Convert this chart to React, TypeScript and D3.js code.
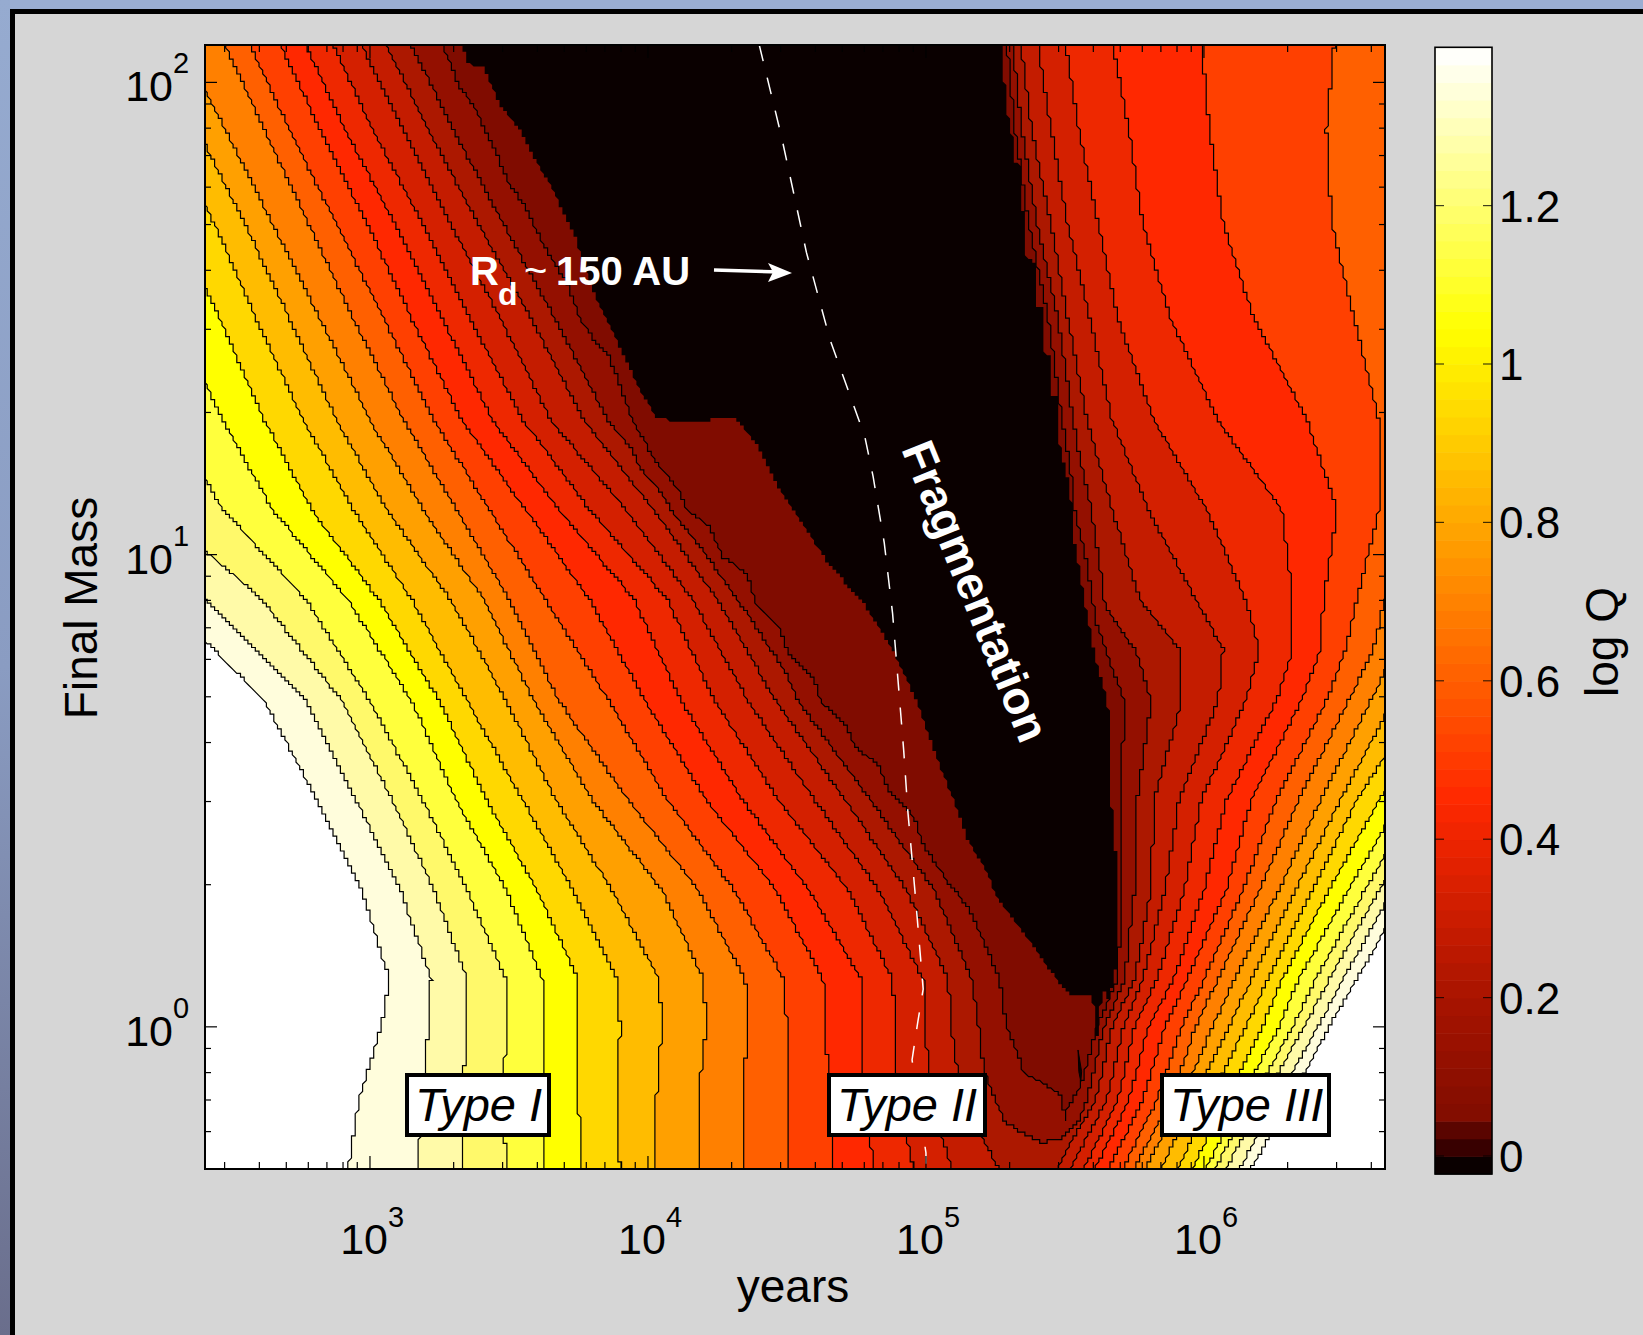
import React from 'react'
import * as d3 from 'd3'

// every contour: log10(years) at fixed log10(mass) rows
const leftRows = [2.09, 1.9, 1.7, 1.5, 1.285, 1.095, 0.905, 0.69, 0.48, 0.29, 0.1, 0, -0.155, -0.31]
const rightRows = [2.09, 1.9, 1.7, 1.5, 1.285, 1.095, 0.905, 0.8, 0.69, 0.48, 0.29, 0.1, 0, -0.155, -0.31]
const OFF = 7.2 // contour has left the plot on the right

// index 0 is the contour between band 3 and band 4, the last one borders white
const leftContours = [
  [3.05, 3.21, 3.39, 3.58, 3.77, 4.02, 4.25, 4.46, 4.71, 4.93, 5.08, 5.09, 5.13, 5.27],
  [2.96, 3.12, 3.29, 3.47, 3.65, 3.92, 4.16, 4.36, 4.6, 4.83, 4.99, 5.0, 5.01, 5.1],
  [2.86, 3.01, 3.19, 3.36, 3.55, 3.79, 4.07, 4.24, 4.47, 4.72, 4.88, 4.89, 4.9, 4.96],
  [2.76, 2.91, 3.09, 3.26, 3.44, 3.68, 3.95, 4.12, 4.34, 4.58, 4.77, 4.77, 4.77, 4.82],
  [2.67, 2.82, 2.99, 3.15, 3.33, 3.56, 3.79, 3.99, 4.21, 4.46, 4.63, 4.64, 4.65, 4.67],
  [2.56, 2.71, 2.88, 3.05, 3.23, 3.43, 3.63, 3.86, 4.07, 4.31, 4.49, 4.5, 4.5, 4.5],
  [2.47, 2.62, 2.78, 2.94, 3.12, 3.31, 3.5, 3.68, 3.93, 4.18, 4.35, 4.36, 4.34, 4.34],
  [2.31, 2.48, 2.65, 2.82, 3.0, 3.19, 3.41, 3.59, 3.8, 4.05, 4.2, 4.21, 4.18, 4.18],
  [2.24, 2.38, 2.55, 2.71, 2.88, 3.06, 3.29, 3.49, 3.67, 3.87, 4.04, 4.05, 4.03, 4.03],
  [2.14, 2.28, 2.44, 2.59, 2.76, 2.94, 3.15, 3.35, 3.55, 3.73, 3.89, 3.9, 3.89, 3.9],
  [2.03, 2.15, 2.3, 2.46, 2.62, 2.79, 3.03, 3.25, 3.42, 3.6, 3.75, 3.75, 3.75, 3.76],
  [1.83, 1.97, 2.14, 2.3, 2.47, 2.65, 2.92, 3.15, 3.31, 3.49, 3.62, 3.62, 3.62, 3.63],
  [1.63, 1.78, 1.94, 2.11, 2.29, 2.47, 2.77, 3.0, 3.19, 3.35, 3.49, 3.49, 3.48, 3.49],
  [1.53, 1.67, 1.82, 1.99, 2.17, 2.24, 2.61, 2.9, 3.08, 3.23, 3.35, 3.35, 3.33, 3.34],
  [1.42, 1.56, 1.73, 1.9, 2.08, 2.17, 2.41, 2.77, 2.95, 3.11, 3.22, 3.21, 3.19, 3.17],
  [1.35, 1.49, 1.65, 1.82, 2.0, 2.06, 2.26, 2.62, 2.81, 2.97, 3.07, 3.04, 2.96, 2.92],
]

const rightContours = [
  [5.34, 5.38, 5.45, 5.51, 5.58, 5.67, 5.77, 5.91, 5.92, 5.82, 5.81, 5.75, 5.67, 5.61, 5.46],
  [5.4, 5.45, 5.51, 5.59, 5.67, 5.8, 5.97, 6.07, 6.05, 5.91, 5.86, 5.78, 5.71, 5.65, 5.51],
  [5.5, 5.55, 5.62, 5.69, 5.82, 6.01, 6.15, 6.2, 6.15, 5.99, 5.93, 5.83, 5.75, 5.69, 5.56],
  [5.67, 5.73, 5.78, 5.88, 6.05, 6.28, 6.32, 6.32, 6.26, 6.08, 6.0, 5.89, 5.8, 5.73, 5.6],
  [5.99, 6.02, 6.07, 6.18, 6.37, 6.48, 6.43, 6.42, 6.35, 6.17, 6.08, 5.94, 5.86, 5.78, 5.65],
  [6.47, 6.44, 6.46, 6.54, 6.63, 6.63, 6.55, 6.51, 6.44, 6.26, 6.14, 6.0, 5.92, 5.83, 5.7],
  [OFF, OFF, OFF, OFF, 7.0, 6.81, 6.65, 6.61, 6.52, 6.34, 6.2, 6.05, 5.97, 5.88, 5.74],
  [OFF, OFF, OFF, OFF, OFF, 7.0, 6.81, 6.69, 6.6, 6.42, 6.27, 6.11, 6.03, 5.92, 5.78],
  [OFF, OFF, OFF, OFF, OFF, OFF, 7.0, 6.8, 6.68, 6.49, 6.33, 6.17, 6.09, 5.96, 5.84],
  [OFF, OFF, OFF, OFF, OFF, OFF, OFF, 6.95, 6.78, 6.55, 6.39, 6.23, 6.15, 6.02, 5.9],
  [OFF, OFF, OFF, OFF, OFF, OFF, OFF, 7.05, 6.85, 6.63, 6.45, 6.28, 6.21, 6.08, 5.95],
  [OFF, OFF, OFF, OFF, OFF, OFF, OFF, OFF, 6.95, 6.71, 6.52, 6.34, 6.27, 6.13, 6.0],
  [OFF, OFF, OFF, OFF, OFF, OFF, OFF, OFF, 7.05, 6.77, 6.58, 6.4, 6.32, 6.17, 6.03],
  [OFF, OFF, OFF, OFF, OFF, OFF, OFF, OFF, 7.1, 6.83, 6.63, 6.45, 6.36, 6.21, 6.07],
  [OFF, OFF, OFF, OFF, OFF, OFF, OFF, OFF, OFF, 6.88, 6.68, 6.5, 6.41, 6.26, 6.12],
  [OFF, OFF, OFF, OFF, OFF, OFF, OFF, OFF, OFF, 6.94, 6.73, 6.55, 6.45, 6.31, 6.16],
]

// the three lowest contours close on themselves: [log10 years, log10 mass]
const outlineBand2 = [
  [3.14, 2.09], [3.3, 1.9], [3.48, 1.7], [3.665, 1.5], [3.855, 1.285], [3.945, 1.22], [3.97, 1.185], [4.05, 1.13],
  [4.1, 1.08], [4.19, 1.015], [4.25, 0.965], [4.305, 0.92], [4.39, 0.845], [4.49, 0.755], [4.54, 0.69], [4.59, 0.65],
  [4.8, 0.48], [5.03, 0.29], [5.165, 0.1], [5.19, 0], [5.205, -0.076], [5.22, -0.112], [5.28, -0.197], [5.34, -0.224],
  [5.42, -0.245], [5.49, -0.235], [5.55, -0.197], [5.58, -0.155], [5.64, 0], [5.715, 0.1], [5.75, 0.29], [5.76, 0.48],
  [5.81, 0.69], [5.76, 0.79], [5.645, 0.89], [5.625, 0.98], [5.59, 1.11], [5.55, 1.215], [5.53, 1.285], [5.475, 1.5],
  [5.4, 1.7], [5.345, 1.9], [5.31, 2.09],
]
const outlineBand1 = [
  [3.25, 2.09], [3.29, 2.04], [3.32, 1.99], [3.37, 1.955], [3.41, 1.905], [3.44, 1.87], [3.5, 1.785], [3.55, 1.745],
  [3.6, 1.685], [3.65, 1.63], [3.71, 1.575], [3.755, 1.5], [3.8, 1.46], [3.86, 1.42], [3.945, 1.285], [4.03, 1.195],
  [4.115, 1.135], [4.14, 1.095], [4.22, 1.06], [4.27, 0.995], [4.355, 0.96], [4.39, 0.895], [4.475, 0.845], [4.505, 0.79],
  [4.595, 0.74], [4.625, 0.685], [4.715, 0.635], [4.745, 0.59], [4.825, 0.56], [4.865, 0.5], [4.935, 0.46], [4.97, 0.43],
  [4.98, 0.395], [5.075, 0.31], [5.15, 0.255], [5.205, 0.185], [5.265, 0.1], [5.29, 0], [5.33, -0.055], [5.35, -0.097],
  [5.445, -0.127], [5.49, -0.148], [5.5, -0.2], [5.51, -0.17], [5.555, -0.127], [5.57, -0.1], [5.615, 0], [5.69, 0.1],
  [5.705, 0.29], [5.7, 0.48], [5.715, 0.69], [5.67, 0.76], [5.61, 0.86], [5.58, 0.98], [5.535, 1.095], [5.52, 1.18],
  [5.49, 1.285], [5.44, 1.5], [5.37, 1.7], [5.32, 1.9], [5.29, 2.09],
]
const outlineBand0 = [
  [3.33, 2.09], [3.35, 2.04], [3.41, 2.03], [3.44, 1.99], [3.47, 1.95], [3.54, 1.9], [3.6, 1.83], [3.66, 1.77],
  [3.74, 1.67], [3.76, 1.63], [3.81, 1.545], [3.85, 1.5], [3.97, 1.35], [4.03, 1.29], [4.12, 1.28], [4.31, 1.29],
  [4.39, 1.235], [4.47, 1.14], [4.55, 1.07], [4.65, 0.98], [4.77, 0.9], [4.88, 0.8], [4.97, 0.685], [5.05, 0.55],
  [5.1, 0.48], [5.15, 0.395], [5.22, 0.325], [5.255, 0.275], [5.35, 0.2], [5.445, 0.12], [5.52, 0.065], [5.6, 0.07],
  [5.61, -0.03], [5.62, -0.013], [5.63, 0.057], [5.65, 0.085], [5.655, 0.057], [5.67, 0.085], [5.69, 0.14], [5.69, 0.32],
  [5.67, 0.445], [5.66, 0.58], [5.655, 0.685], [5.615, 0.77], [5.58, 0.87], [5.53, 1.045], [5.52, 1.135], [5.475, 1.25],
  [5.47, 1.335], [5.445, 1.34], [5.445, 1.42], [5.42, 1.43], [5.42, 1.525], [5.39, 1.53], [5.39, 1.62], [5.36, 1.63],
  [5.36, 1.72], [5.34, 1.735], [5.34, 1.825], [5.31, 1.83], [5.31, 1.885], [5.29, 1.945], [5.29, 1.98], [5.27, 2.03],
  [5.27, 2.09],
]
const sliverBand0 = [[5.547, -0.049], [5.56, -0.095], [5.557, -0.116], [5.55, -0.095]]

const discRadius = [
  [4.4, 2.08], [4.48, 1.886], [4.57, 1.64], [4.655, 1.455], [4.78, 1.25], [4.81, 1.165], [4.85, 1.025], [4.88, 0.875],
  [4.9, 0.73], [4.92, 0.585], [4.935, 0.455], [4.96, 0.29], [4.99, 0.08], [4.97, 0.008], [4.95, -0.07], [5.0, -0.267],
  [5.0, -0.3],
]

const bandColors = [
  '#0a0000', '#800c00', '#941000', '#ac1800', '#c41c00', '#d42000', '#ee2800', '#ff2800', '#ff4000', '#ff6000',
  '#ff8000', '#ffa000', '#ffbc00', '#ffd800', '#ffff00', '#ffff3c', '#fff96a', '#fffaa8', '#fffddc', '#ffffff',
]

const cbarStops = [0.045, 0.2, 0.45, 1.044, 1.395]
const cbarStopColors = ['#800c00', '#a81400', '#ff2800', '#ffff00', '#ffffff']
const cbarBottomColors = ['#0a0000', '#380000', '#5a0500']
const cbarTicks = [0, 0.2, 0.4, 0.6, 0.8, 1, 1.2]
const cbarTickLabels = ['0', '0.2', '0.4', '0.6', '0.8', '1', '1.2']

const xDecades = [3, 4, 5, 6]
const yDecades = [0, 1, 2]
const typeBoxes = [
  { label: 'Type I', x: 405, w: 146 },
  { label: 'Type II', x: 827, w: 160 },
  { label: 'Type III', x: 1160, w: 171 },
]

const FONT = '"Liberation Sans", Arial, sans-serif'
const CELL = 3.7 // the original was contoured on a grid, so its lines jog a little

export default function App() {
  const left = 205
  const right = 1385
  const top = 45
  const bottom = 1169

  const x = d3.scaleLog().domain([255, 4.48e6]).range([left, right])
  const y = d3.scaleLog().domain([0.5, 120]).range([bottom, top])
  const cb = d3.scaleLinear().domain([0, 1]).range([1156, 364])
  const cbColor = d3.scaleLinear<string>().domain(cbarStops).range(cbarStopColors).clamp(true)

  const px = (p: number[]) => x(Math.pow(10, p[0]))
  const py = (p: number[]) => y(Math.pow(10, p[1]))
  const straight = d3.line<number[]>().x(px).y(py)
  const gridLine = d3.line<number[]>()

  // walk a polyline and snap it to the contour grid
  const stairs = (pts: number[][]) => {
    const out: number[][] = []
    for (let i = 0; i < pts.length - 1; i++) {
      const [x0, y0] = [px(pts[i]), py(pts[i])]
      const [x1, y1] = [px(pts[i + 1]), py(pts[i + 1])]
      const n = Math.max(1, Math.ceil(Math.hypot(x1 - x0, y1 - y0) / (CELL / 2)))
      for (let k = 0; k <= n; k++) {
        const sx = Math.round((x0 + ((x1 - x0) * k) / n) / CELL) * CELL
        const sy = Math.round((y0 + ((y1 - y0) * k) / n) / CELL) * CELL
        const last = out[out.length - 1]
        if (!last || last[0] !== sx || last[1] !== sy) out.push([sx, sy])
      }
    }
    return out
  }

  const bands = leftContours
    .map((lc, i) => {
      const lp = lc.map((v, r) => [v, leftRows[r]])
      const rp = rightContours[i].map((v, r) => [v, rightRows[r]]).reverse()
      return { d: gridLine(stairs(lp).concat(stairs(rp))) + 'Z', fill: bandColors[i + 3] }
    })
    .reverse()

  const cbarBands = d3.range(64).map((i) => {
    const h = (1174 - 47.3) / 64
    const yb = 1174 - i * h
    const v = cb.invert(yb - h / 2)
    return { y: yb - h, h, fill: i < 3 ? cbarBottomColors[i] : cbColor(v) }
  })

  const xTicks = x.ticks()
  const yTicks = y.ticks()
  const isMajor = (t: number) => Math.abs(Math.log10(t) - Math.round(Math.log10(t))) < 1e-6

  return (
    <svg
      width={1643}
      height={1335}
      style={{ position: 'absolute', left: 0, top: 0, display: 'block' }}
      fontFamily={FONT}
    >
      <defs>
        <linearGradient id="edge" x1="0" y1="0" x2="0" y2="1">
          <stop offset="0" stopColor="#96abd0" />
          <stop offset="0.5" stopColor="#8a9cc2" />
          <stop offset="1" stopColor="#6a6e8c" />
        </linearGradient>
        <clipPath id="plot">
          <rect x={left} y={top} width={right - left} height={bottom - top} />
        </clipPath>
      </defs>

      <rect width={1643} height={1335} fill="#d6d6d6" />
      <rect width={1643} height={9} fill="#9aaed2" />
      <rect width={10} height={1335} fill="url(#edge)" />
      <rect x={10} y={9} width={1633} height={5} fill="#000" />
      <rect x={10} y={9} width={5} height={1326} fill="#000" />

      <g clipPath="url(#plot)">
        <rect x={left} y={top} width={right - left} height={bottom - top} fill="#fff" />
        {bands.map((b, i) => (
          <path key={i} d={b.d} fill={b.fill} stroke="#000" strokeWidth={1.2} />
        ))}
        <path d={gridLine(stairs(outlineBand2)) + 'Z'} fill={bandColors[2]} stroke="#000" strokeWidth={1.2} />
        <path d={gridLine(stairs(outlineBand1)) + 'Z'} fill={bandColors[1]} stroke="#000" strokeWidth={1.2} />
        <path d={gridLine(stairs(outlineBand0)) + 'Z'} fill={bandColors[0]} />
        <path d={straight(sliverBand0) + 'Z'} fill={bandColors[0]} stroke="#000" strokeWidth={1} />
        <path
          d={straight(discRadius) as string}
          fill="none"
          stroke="#fff"
          strokeWidth={1.5}
          strokeDasharray="17 17"
        />
      </g>

      {/* ticks on all four sides */}
      {xTicks.map((t, i) => {
        const len = isMajor(t) ? 13 : 7
        return (
          <g key={i} stroke="#000" strokeWidth={1.2}>
            <line x1={x(t)} x2={x(t)} y1={bottom} y2={bottom - len} />
            <line x1={x(t)} x2={x(t)} y1={top} y2={top + len} />
          </g>
        )
      })}
      {yTicks.map((t, i) => {
        const len = isMajor(t) ? 12 : 6
        return (
          <g key={i} stroke="#000" strokeWidth={1.2}>
            <line x1={left} x2={left + len} y1={y(t)} y2={y(t)} />
            <line x1={right} x2={right - len} y1={y(t)} y2={y(t)} />
          </g>
        )
      })}
      <rect x={left} y={top} width={right - left} height={bottom - top} fill="none" stroke="#000" strokeWidth={2} />

      {/* decade labels */}
      {xDecades.map((d) => (
        <g key={d} fill="#000">
          <text x={x(Math.pow(10, d)) + 18} y={1254} fontSize={43} textAnchor="end">10</text>
          <text x={x(Math.pow(10, d)) + 18} y={1227} fontSize={29}>{d}</text>
        </g>
      ))}
      {yDecades.map((d) => (
        <g key={d} fill="#000">
          <text x={173} y={y(Math.pow(10, d)) + 19} fontSize={43} textAnchor="end">10</text>
          <text x={173} y={y(Math.pow(10, d)) - 9} fontSize={29}>{d}</text>
        </g>
      ))}
      <text x={793} y={1302} fontSize={46} textAnchor="middle" fill="#000">years</text>
      <text transform="translate(97,608) rotate(-90)" fontSize={46} textAnchor="middle" fill="#000">Final Mass</text>

      {/* annotations */}
      <g fill="#fff" fontWeight="bold">
        <text x={470} y={285} fontSize={40}>R</text>
        <text x={498} y={305} fontSize={32}>d</text>
        <text x={524} y={284} fontSize={40} fontWeight="normal">~</text>
        <text x={556} y={285} fontSize={40}>150 AU</text>
        <text transform="translate(901,449) rotate(68)" fontSize={46}>Fragmentation</text>
      </g>
      <line x1={714} y1={270} x2={780} y2={272} stroke="#fff" strokeWidth={3.5} />
      <path d="M792,273 L768,263 L773,272 L768,282 Z" fill="#fff" />

      {typeBoxes.map((b) => (
        <g key={b.label}>
          <rect x={b.x + 2} y={1075} width={b.w - 4} height={60} fill="#fff" stroke="#000" strokeWidth={4} />
          <text x={b.x + 10} y={1121} fontSize={47} fontStyle="italic" fill="#000">{b.label}</text>
        </g>
      ))}

      {/* colour bar */}
      {cbarBands.map((b, i) => (
        <rect key={i} x={1435} y={b.y} width={57} height={b.h + 0.5} fill={b.fill} />
      ))}
      {cbarTicks.map((t) => (
        <g key={t} stroke="#000" strokeOpacity={0.75} strokeWidth={1.2}>
          <line x1={1435} x2={1444} y1={cb(t)} y2={cb(t)} />
          <line x1={1483} x2={1492} y1={cb(t)} y2={cb(t)} />
        </g>
      ))}
      <rect x={1435} y={47.3} width={57} height={1126.7} fill="none" stroke="#000" strokeWidth={1.6} />
      {cbarTicks.map((t, i) => (
        <text key={t} x={1499} y={cb(t) + 16} fontSize={44} fill="#000">{cbarTickLabels[i]}</text>
      ))}
      <text transform="translate(1618,642) rotate(-90)" fontSize={46} textAnchor="middle" fill="#000">log Q</text>
    </svg>
  )
}
